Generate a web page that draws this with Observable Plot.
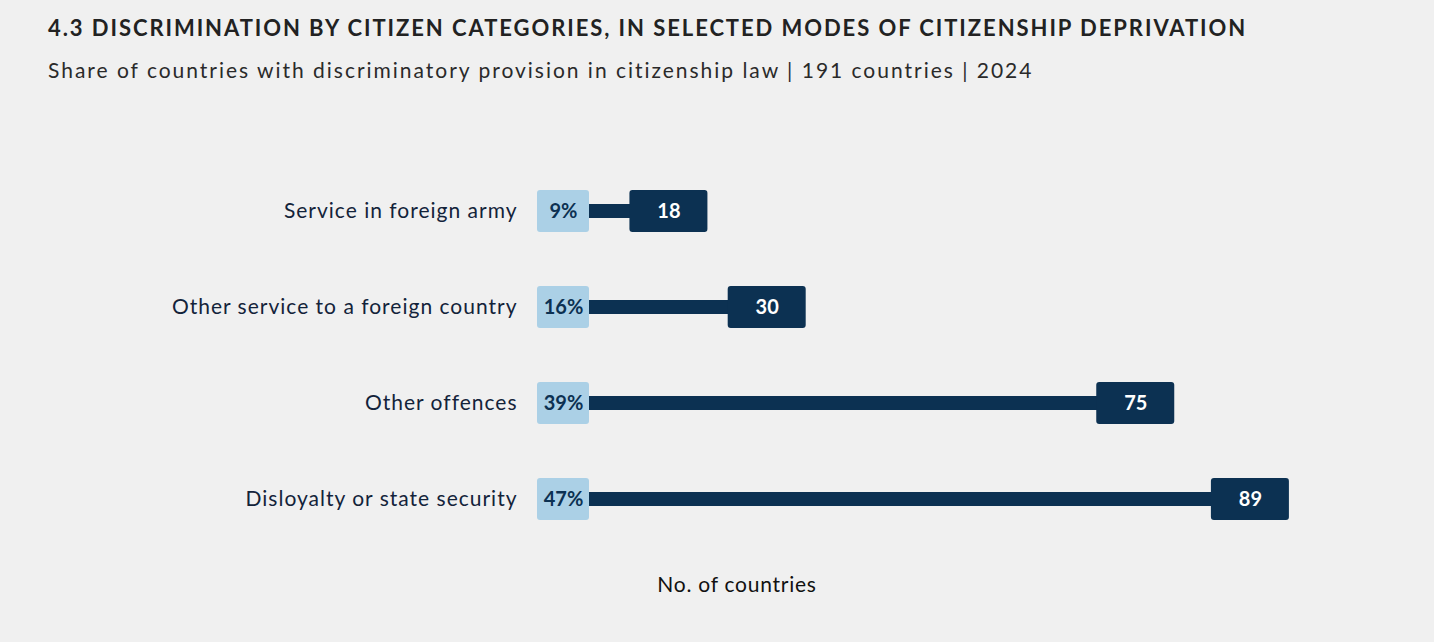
<!DOCTYPE html>
<html><head><meta charset="utf-8">
<script src="https://cdn.jsdelivr.net/npm/d3@7"></script>
<script src="https://cdn.jsdelivr.net/npm/@observablehq/plot@0.6"></script>
<style>
body{margin:0;background:#f0f0f0;width:1434px;height:642px;overflow:hidden;position:relative;font-family:Lato,"Noto Sans",sans-serif;}
#title{position:absolute;left:48px;top:14px;font-size:22px;font-weight:700;letter-spacing:1.93px;color:#222;white-space:nowrap}
#subtitle{position:absolute;left:48px;top:57px;font-size:21px;letter-spacing:1.98px;color:#2a2a2a;white-space:nowrap}
#chart{position:absolute;left:0;top:100px}
#xlabel{position:absolute;left:737px;top:571px;transform:translateX(-50%);font-size:21px;letter-spacing:0.75px;color:#111;white-space:nowrap}
#chart svg g[aria-label="y-axis tick label"] text{letter-spacing:1px}
</style></head>
<body>
<div id="title">4.3 DISCRIMINATION BY CITIZEN CATEGORIES, IN SELECTED MODES OF CITIZENSHIP DEPRIVATION</div>
<div id="subtitle">Share of countries with discriminatory provision in citizenship law | 191 countries | 2024</div>
<div id="chart"></div>
<div id="xlabel">No. of countries</div>
<script>
const categories = ["Service in foreign army", "Other service to a foreign country", "Other offences", "Disloyalty or state security"];
const counts = [18, 30, 75, 89];
const shares = ["9%", "16%", "39%", "47%"];

const data = categories.map((c, i) => ({cat: c, count: counts[i], share: shares[i]}));
const navy = "#0c3152";
const light = "#abd0e6";

const chart = Plot.plot({
  width: 1434,
  height: 480,
  marginLeft: 521,
  marginRight: 94,
  marginTop: 0,
  marginBottom: 0,
  x: {domain: [0, 100], axis: null},
  y: {domain: categories, type: "band", range: [63, 447], paddingInner: 0.5625, paddingOuter: 0.28125, align: 0.5, label: null},
  style: {background: "transparent", fontFamily: "Lato, 'Noto Sans', sans-serif", color: "#13233a"},
  marks: [
    Plot.axisY({tickSize: 0, tickPadding: 4, fontSize: 21, label: null}),
    Plot.barX(data, {x1: 0, x2: "count", y: "cat", insetLeft: 68, insetTop: 14, insetBottom: 14, fill: navy}),
    Plot.barX(data, {x1: 0, x2: 0, y: "cat", insetLeft: 16, insetRight: -68, rx: 3, fill: light}),
    Plot.barX(data, {x1: "count", x2: "count", y: "cat", insetLeft: -39, insetRight: -39, rx: 3, fill: navy}),
    Plot.text(data, {x: 0, y: "cat", text: "share", dx: 42, fill: navy, fontSize: 20, fontWeight: 700}),
    Plot.text(data, {x: "count", y: "cat", text: d => String(d.count), fill: "white", fontSize: 20, fontWeight: 700})
  ]
});
document.getElementById("chart").appendChild(chart);
</script>
</body></html>
